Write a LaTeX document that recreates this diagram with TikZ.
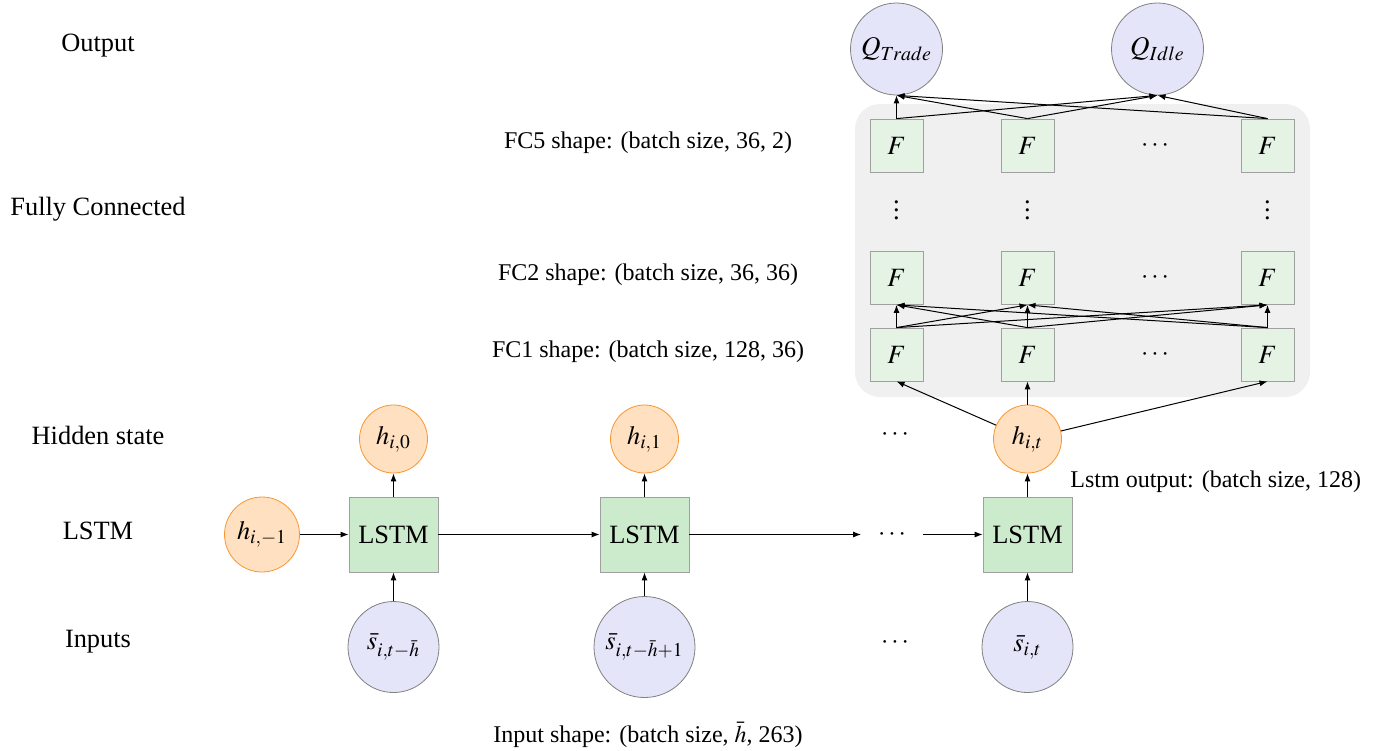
\documentclass[tikz,border=0pt]{standalone}
\usepackage{mathptmx}
\usepackage[no-math]{fontspec}
\setmainfont{Liberation Serif}
\usetikzlibrary{arrows.meta}
\definecolor{hfill}{RGB}{255,224,192}
\definecolor{hdraw}{RGB}{250,150,50}
\definecolor{lstmfill}{RGB}{204,234,204}
\definecolor{ffill}{RGB}{229,243,229}
\definecolor{sfill}{RGB}{229,229,250}
\definecolor{bgfill}{RGB}{240,240,240}
\definecolor{bordergray}{RGB}{160,160,160}
\begin{document}
\begin{tikzpicture}[x=0.5pt,y=-0.5pt,
  big/.style={font=\fontsize{13.2}{15}\selectfont},
  small/.style={font=\fontsize{12}{14}\selectfont},
  arr/.style={-{Latex[length=4pt,width=3pt]}, line width=0.5pt},
  lstmbox/.style={big, draw=bordergray, fill=lstmfill, minimum width=44.5pt, minimum height=37.5pt, inner sep=0pt},
  fbox/.style={big, draw=bordergray, fill=ffill, minimum size=26.5pt, inner sep=0pt},
  hcirc/.style={big, circle, draw=hdraw, fill=hfill, minimum size=34pt, inner sep=0pt},
  scirc/.style={big, circle, draw=gray, fill=sfill, minimum size=45.5pt, inner sep=0pt},
  qcirc/.style={circle, draw=gray, fill=sfill, minimum size=46pt, inner sep=0pt, font=\fontsize{13.5}{16}\selectfont},
  dots/.style={big, inner sep=0pt},
]
\useasboundingbox (0,0) rectangle (1384,750);

% left labels
\node[big] (lout) at (98,46) {Output};
\node[big] (lfc) at (98,209) {Fully Connected};
\node[big] (lhid) at (98,435) {Hidden state};
\node[big] (llstm) at (98,531) {LSTM};
\node[big] (linp) at (98,642) {Inputs};

% background of FC part
\fill[bgfill, rounded corners=12.5pt] (855,104) rectangle (1310,397);

% LSTM chain
\node[hcirc, minimum size=37.5pt] (hm1) at (262,534.5) {$h_{i,-1}$};
\node[lstmbox] (L1) at (393.5,534.5) {LSTM};
\node[lstmbox] (L2) at (644.5,534.5) {LSTM};
\node[lstmbox] (L3) at (1027.5,534.5) {LSTM};
\node[dots, minimum width=30.5pt] (dl) at (892,534.5) {$\cdots$};

\node[hcirc] (h0) at (393.5,439) {$h_{i,0}$};
\node[hcirc] (h1) at (644.5,439) {$h_{i,1}$};
\node[hcirc] (ht) at (1027.5,439) {$h_{i,t}$};
\node[dots] (dh) at (895,435) {$\cdots$};

\node[scirc] (s1) at (393.5,647) {$\bar{s}_{i,t-\bar{h}}$};
\node[scirc, minimum size=50.5pt] (s2) at (644.5,647) {$\bar{s}_{i,t-\bar{h}+1}$};
\node[scirc] (s3) at (1027.5,647) {$\bar{s}_{i,t}$};
\node[dots] (ds) at (895,643) {$\cdots$};

\draw[arr] (hm1) -- (L1);
\draw[arr] (L1) -- (L2);
\draw[arr] (L2) -- (dl);
\draw[arr] (dl) -- (L3);
\foreach \a/\b in {L1/h0, L2/h1, L3/ht, s1/L1, s2/L2, s3/L3}
  \draw[arr] (\a) -- (\b);

% FC layers
\foreach \c/\x in {1/896.5, 2/1027.5, 4/1267.5} {
  \node[fbox] (Fa\c) at (\x,354.5) {$F$};
  \node[fbox] (Fb\c) at (\x,278) {$F$};
  \node[fbox] (Fc\c) at (\x,145.5) {$F$};
  \node[dots] (vd\c) at (\x,204) {$\vdots$};
}
\node[dots] (da) at (1155,354.5) {$\cdots$};
\node[dots] (db) at (1155,278) {$\cdots$};
\node[dots] (dc) at (1155,145.5) {$\cdots$};

\node[qcirc] (Qt) at (896.5,49) {$Q_{Trade}$};
\node[qcirc] (Qi) at (1157.5,49) {$Q_{Idle}$};

\foreach \c in {1,2,4}
  \draw[arr] (ht) -- (Fa\c.south);
\foreach \a in {1,2,4}
  \foreach \b in {1,2,4}
    \draw[arr] (Fa\a.north) -- (Fb\b.south);
\foreach \a in {1,2,4} {
  \draw[arr] (Fc\a.north) -- (Qt.south);
  \draw[arr] (Fc\a.north) -- (Qi.south);
}

% annotations
\node[small] (a5) at (648,143) {FC5 shape: (batch size, 36, 2)};
\node[small] (a2) at (648,275) {FC2 shape: (batch size, 36, 36)};
\node[small] (a1) at (648,352) {FC1 shape: (batch size, 128, 36)};
\node[small, anchor=west, inner sep=0pt] (alstm) at (1070,482) {Lstm output: (batch size, 128)};
\node[small] (ainp) at (648,735) {Input shape: (batch size, $\bar{h}$, 263)};
\end{tikzpicture}
\end{document}
